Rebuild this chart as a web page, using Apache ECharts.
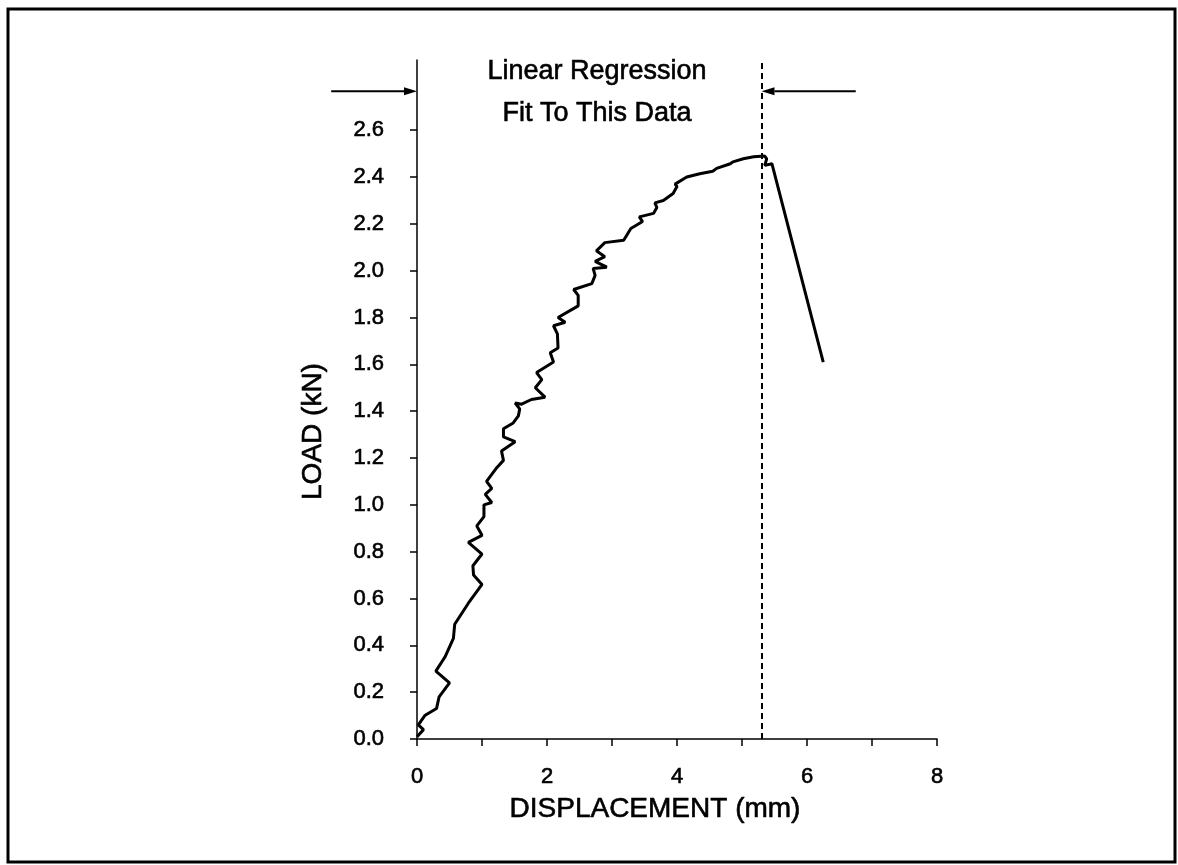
<!DOCTYPE html>
<html><head><meta charset="utf-8">
<script src="https://cdn.jsdelivr.net/npm/echarts@6/dist/echarts.min.js"></script>
<style>html,body{margin:0;padding:0;background:#fff}#c{width:1178px;height:865px}</style>
</head><body><div id="c"></div>
<script>
// Displacement (mm) and load (kN), in drawing order
const displacement = [0, 0.1, 0.02, 0.12, 0.3, 0.34, 0.5, 0.29, 0.43, 0.56, 0.58, 0.79, 1.0, 0.87, 0.86, 1.0, 0.79, 1.0, 0.92, 1.03, 1.03, 1.15, 1.05, 1.15, 1.07, 1.23, 1.33, 1.30, 1.51, 1.33, 1.33, 1.48, 1.56, 1.58, 1.51, 1.61, 1.76, 1.97, 1.82, 1.92, 1.84, 2.10, 2.05, 2.17, 2.16, 2.10, 2.28, 2.17, 2.48, 2.48, 2.41, 2.69, 2.74, 2.71, 2.92, 2.74, 2.89, 2.76, 2.89, 3.18, 3.29, 3.47, 3.42, 3.64, 3.69, 3.66, 3.79, 3.94, 4.0, 3.97, 4.15, 4.35, 4.55, 4.61, 4.82, 4.86, 5.02, 5.18, 5.35, 5.38, 5.35, 5.46, 6.25];
const load = [0.01, 0.04, 0.06, 0.10, 0.13, 0.18, 0.24, 0.29, 0.35, 0.43, 0.49, 0.58, 0.66, 0.70, 0.74, 0.79, 0.84, 0.87, 0.91, 0.95, 1.0, 1.01, 1.045, 1.07, 1.10, 1.16, 1.19, 1.23, 1.27, 1.29, 1.325, 1.35, 1.38, 1.41, 1.435, 1.43, 1.45, 1.46, 1.50, 1.535, 1.565, 1.61, 1.65, 1.67, 1.73, 1.765, 1.78, 1.80, 1.85, 1.895, 1.92, 1.945, 1.98, 2.01, 2.015, 2.04, 2.06, 2.085, 2.12, 2.13, 2.18, 2.21, 2.23, 2.245, 2.27, 2.29, 2.30, 2.33, 2.36, 2.37, 2.40, 2.414, 2.425, 2.437, 2.457, 2.465, 2.478, 2.487, 2.49, 2.478, 2.45, 2.457, 1.61];
const xTicks = [0, 1, 2, 3, 4, 5, 6, 7, 8];
const xTickLabels = [0, 2, 4, 6, 8];
const yTickLabels = [0, 0.2, 0.4, 0.6, 0.8, 1.0, 1.2, 1.4, 1.6, 1.8, 2.0, 2.2, 2.4, 2.6];
// Regression fit window and annotation
const fitStart = 0;
const fitEnd = 5.3;
const arrowLoad = 2.767;
const arrowTails = [-1.32, 6.75];
const annotationLines = ['Linear Regression', 'Fit To This Data'];
const annotationPos = [[2.77, 2.85], [2.77, 2.67]];

const FONT = "'Liberation Sans', Arial, Helvetica, sans-serif";
const INK = {color: '#000', textBorderColor: '#000', textBorderWidth: 0.6};
const chart = echarts.init(document.getElementById('c'), null, {renderer: 'canvas'});
const pts = displacement.map((d, i) => [d, load[i]]);

chart.setOption({
  animation: false,
  backgroundColor: '#fff',
  grid: {left: 417, right: 241, top: 60, bottom: 126, containLabel: false},
  xAxis: {
    type: 'value', min: 0, max: 8,
    name: 'DISPLACEMENT (mm)', nameLocation: 'middle', nameGap: 56,
    nameTextStyle: Object.assign({fontFamily: FONT, fontSize: 28, padding: [0, 44, 0, 0]}, INK),
    axisLine: {show: true, lineStyle: {color: '#000', width: 1.5}},
    axisTick: {show: true, length: 7, customValues: xTicks, lineStyle: {color: '#000', width: 1.5}},
    axisLabel: Object.assign({customValues: xTickLabels, margin: 27, fontFamily: FONT, fontSize: 22}, INK),
    splitLine: {show: false}
  },
  yAxis: {
    type: 'value', min: 0, max: 2.9,
    name: 'LOAD (kN)', nameLocation: 'middle', nameGap: 90,
    nameTextStyle: Object.assign({fontFamily: FONT, fontSize: 28, padding: [0, 64, 0, 0]}, INK),
    axisLine: {show: true, lineStyle: {color: '#000', width: 1.5}},
    axisTick: {show: true, length: 7, customValues: yTickLabels, lineStyle: {color: '#000', width: 1.5}},
    axisLabel: Object.assign({customValues: yTickLabels, formatter: v => v.toFixed(1), margin: 33, fontFamily: FONT, fontSize: 22}, INK),
    splitLine: {show: false}
  },
  series: [{
    type: 'line', data: pts, showSymbol: false, symbol: 'none',
    lineStyle: {color: '#000', width: 3},
    clip: false,
    markLine: {
      silent: true, symbol: ['none', 'none'], label: {show: false},
      lineStyle: {color: '#000', width: 2, type: [6, 4]},
      data: [{xAxis: fitEnd}]
    }
  }]
});

const p = (x, y) => chart.convertToPixel({gridIndex: 0}, [x, y]);
function arrow(fromX, toX) {
  const a = p(fromX, arrowLoad), b = p(toX, arrowLoad);
  const dir = Math.sign(b[0] - a[0]);
  const hl = 13, hw = 4;
  return [
    {type: 'line', shape: {x1: a[0], y1: a[1], x2: b[0] - dir * hl, y2: b[1]}, style: {stroke: '#000', lineWidth: 2}},
    {type: 'polygon', shape: {points: [[b[0], b[1]], [b[0] - dir * hl, b[1] - hw], [b[0] - dir * hl, b[1] + hw]]}, style: {fill: '#000'}}
  ];
}
const graphics = [
  {type: 'rect', shape: {x: 8, y: 9, width: 1167, height: 853}, style: {fill: null, stroke: '#000', lineWidth: 3}, silent: true}
].concat(arrow(arrowTails[0], fitStart), arrow(arrowTails[1], fitEnd));
annotationLines.forEach((t, i) => {
  const q = p(annotationPos[i][0], annotationPos[i][1]);
  graphics.push({type: 'text', x: q[0], y: q[1], style: {text: t, fontFamily: FONT, fontSize: 27, fill: '#000', stroke: '#000', lineWidth: 0.6, align: 'center', verticalAlign: 'middle'}});
});
chart.setOption({graphic: graphics});
</script>
</body></html>
